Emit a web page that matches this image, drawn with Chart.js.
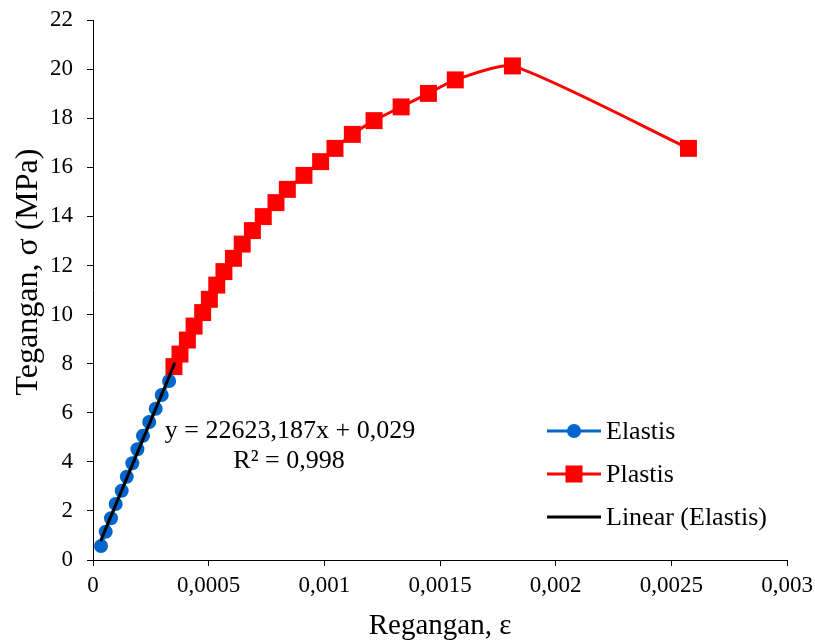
<!DOCTYPE html>
<html>
<head>
<meta charset="utf-8">
<script src="https://cdn.jsdelivr.net/npm/chart.js@4/dist/chart.umd.min.js"></script>
<style>
    body { margin: 0; background: #fff; }
    #wrap { width: 815px; height: 644px; }
</style>
</head>
<body>
<div id="wrap"><canvas id="chart" width="815" height="644"></canvas></div>
<script>
// Values
const elastisStrain = [0.0000346, 0.0000549, 0.0000778, 0.0000981, 0.000124, 0.000146, 0.00017,
    0.000192, 0.000216, 0.000243, 0.000271, 0.000297, 0.000329];
const elastisStress = [0.57, 1.15, 1.70, 2.28, 2.82, 3.39, 3.94, 4.51, 5.06, 5.62, 6.16, 6.72, 7.29];

const plastisStrain = [0.00035, 0.000376, 0.000408, 0.000437, 0.000474, 0.000503, 0.000535, 0.000566,
    0.000607, 0.000645, 0.000689, 0.000736, 0.000791, 0.00084, 0.000912, 0.000984, 0.001046, 0.001121,
    0.001215, 0.001332, 0.00145, 0.001566, 0.001813, 0.002574];
const plastisStress = [7.88, 8.39, 8.96, 9.53, 10.08, 10.62, 11.2, 11.75, 12.29, 12.87, 13.42, 13.99,
    14.56, 15.1, 15.67, 16.23, 16.77, 17.34, 17.9, 18.46, 19.01, 19.56, 20.13, 16.77];

// Linear trend line ends (Elastis)
const trendStrain = [0.000035, 0.000352];
const trendStress = [0.82, 7.99];

const xTickLabels = ['0', '0,0005', '0,001', '0,0015', '0,002', '0,0025', '0,003'];
const legendLabels = ['Elastis', 'Plastis', 'Linear (Elastis)'];
const equationLines = ['y = 22623,187x + 0,029', 'R\u00b2 = 0,998'];
const yTitle = 'Tegangan, \u03c3 (MPa)';

const FONT = "'Liberation Serif', 'Times New Roman', serif";
const BLUE = '#0066cc';
const RED = '#ff0000';

const toPoints = (xs, ys) => xs.map((x, i) => ({ x: x, y: ys[i] }));

// Legend, trend equation and y-axis title
const annotations = {
    id: 'annotations',
    afterDraw(chart) {
        const ctx = chart.ctx;
        ctx.save();
        ctx.fillStyle = '#000';
        ctx.textBaseline = 'middle';
        ctx.textAlign = 'center';

        // y-axis title
        ctx.save();
        ctx.font = '32px ' + FONT;
        ctx.translate(29, 272);
        ctx.rotate(-Math.PI / 2);
        ctx.fillText(yTitle, 0, 0);
        ctx.restore();

        ctx.font = '26px ' + FONT;

        // equation
        ctx.fillText(equationLines[0], 290, 431);
        ctx.fillText(equationLines[1], 289, 461);

        // legend
        const rows = [431, 474, 517];
        const sets = [chart.data.datasets[2], chart.data.datasets[1], chart.data.datasets[0]];
        ctx.textAlign = 'left';
        sets.forEach((ds, i) => {
            const y = rows[i];
            ctx.strokeStyle = ds.borderColor;
            ctx.lineWidth = 3;
            ctx.beginPath();
            ctx.moveTo(547, y);
            ctx.lineTo(601, y);
            ctx.stroke();
            if (ds.pointRadius > 0) {
                ctx.fillStyle = ds.pointBackgroundColor;
                if (ds.pointStyle === 'circle') {
                    ctx.beginPath();
                    ctx.arc(574, y, 7, 0, Math.PI * 2);
                    ctx.fill();
                } else {
                    ctx.fillRect(574 - 8.5, y - 8.5, 17, 17);
                }
            }
            ctx.fillStyle = '#000';
            ctx.fillText(legendLabels[i], 606, y + 1);
        });
        ctx.restore();
    }
};

new Chart(document.getElementById('chart'), {
    type: 'scatter',
    data: {
        datasets: [
            {
                label: 'Linear (Elastis)',
                data: toPoints(trendStrain, trendStress),
                showLine: true,
                borderColor: '#000',
                borderWidth: 3,
                borderCapStyle: 'round',
                pointRadius: 0,
                order: 0
            },
            {
                label: 'Plastis',
                data: toPoints(plastisStrain, plastisStress),
                showLine: true,
                borderColor: RED,
                borderWidth: 3,
                tension: 0.2,
                pointStyle: 'rect',
                pointRadius: 12,
                pointBorderWidth: 0,
                pointBackgroundColor: RED,
                order: 1
            },
            {
                label: 'Elastis',
                data: toPoints(elastisStrain, elastisStress),
                showLine: true,
                borderColor: BLUE,
                borderWidth: 3,
                pointStyle: 'circle',
                pointRadius: 7,
                pointBorderWidth: 0,
                pointBackgroundColor: BLUE,
                order: 2
            }
        ]
    },
    options: {
        responsive: false,
        animation: false,
        clip: false,
        layout: {
            padding: { left: 0, top: 20, right: 28, bottom: 0 }
        },
        plugins: {
            legend: { display: false },
            tooltip: { enabled: false }
        },
        scales: {
            x: {
                type: 'linear',
                min: 0,
                max: 0.003,
                border: { color: '#000', width: 1 },
                grid: {
                    drawOnChartArea: false,
                    color: '#000',
                    tickLength: 6
                },
                ticks: {
                    stepSize: 0.0005,
                    color: '#000',
                    padding: 6,
                    maxRotation: 0,
                    font: { family: FONT, size: 23 },
                    callback: (value, index) => xTickLabels[index]
                },
                title: {
                    display: true,
                    text: 'Regangan, \u03b5',
                    color: '#000',
                    font: { family: FONT, size: 29 },
                    padding: { top: 0, bottom: 0 }
                },
                afterFit: (scale) => {
                    scale.height = 84;
                    scale.paddingLeft = 0;
                    scale.paddingRight = 0;
                }
            },
            y: {
                min: 0,
                max: 22,
                border: { color: '#000', width: 1 },
                grid: {
                    drawOnChartArea: false,
                    color: '#000',
                    tickLength: 6
                },
                ticks: {
                    stepSize: 2,
                    color: '#000',
                    padding: 14,
                    font: { family: FONT, size: 23 }
                },
                afterFit: (scale) => {
                    scale.width = 93;
                    scale.paddingTop = 0;
                    scale.paddingBottom = 0;
                }
            }
        }
    },
    plugins: [annotations]
});
</script>
</body>
</html>
